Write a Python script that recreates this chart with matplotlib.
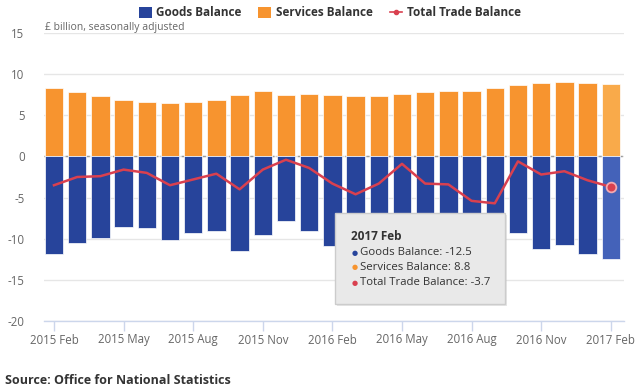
import matplotlib
matplotlib.use("Agg")
import matplotlib.pyplot as plt
from matplotlib.patches import Rectangle, Patch
from matplotlib.lines import Line2D

months = ["2015 Feb", "2015 Mar", "2015 Apr", "2015 May", "2015 Jun", "2015 Jul",
          "2015 Aug", "2015 Sep", "2015 Oct", "2015 Nov", "2015 Dec", "2016 Jan",
          "2016 Feb", "2016 Mar", "2016 Apr", "2016 May", "2016 Jun", "2016 Jul",
          "2016 Aug", "2016 Sep", "2016 Oct", "2016 Nov", "2016 Dec", "2017 Jan",
          "2017 Feb"]
goods = [-11.9, -10.5, -9.9, -8.6, -8.7, -10.2, -9.3, -9.1, -11.5, -9.5, -7.9, -9.1,
         -10.9, -12.0, -10.7, -8.5, -11.0, -11.3, -13.3, -14.0, -9.3, -11.3, -10.8,
         -11.9, -12.5]
services = [8.3, 7.8, 7.4, 6.9, 6.6, 6.5, 6.6, 6.9, 7.5, 7.9, 7.5, 7.6,
            7.5, 7.4, 7.4, 7.6, 7.8, 7.9, 8.0, 8.3, 8.7, 8.9, 9.1, 8.9, 8.8]
total = [-3.5, -2.5, -2.4, -1.6, -2.0, -3.5, -2.8, -2.1, -4.0, -1.6, -0.4, -1.4,
         -3.3, -4.6, -3.3, -0.9, -3.3, -3.4, -5.4, -5.7, -0.6, -2.2, -1.8, -2.9, -3.7]
yticks = [15, 10, 5, 0, -5, -10, -15, -20]

plt.rcParams["font.family"] = ["Open Sans", "DejaVu Sans"]

GOODS_C = "#27449b"
GOODS_H = "#4462b9"
SERV_C = "#f7942f"
SERV_H = "#f9aa4a"
LINE_C = "#d9404f"

fig = plt.figure(figsize=(6.4, 3.92), dpi=100)
ax = fig.add_axes([44 / 640, 1 - 321 / 392, 580 / 640, 288 / 392])

x = list(range(len(months)))
gcol = [GOODS_C] * (len(x) - 1) + [GOODS_H]
scol = [SERV_C] * (len(x) - 1) + [SERV_H]
ax.axhline(0, color="#9a9a9a", lw=1.0, ls=(0, (2.2, 1.6)), zorder=1)
ax.bar(x, services, width=0.79, color=scol, edgecolor="white", linewidth=0.5, zorder=2)
ax.bar(x, goods, width=0.79, color=gcol, edgecolor="white", linewidth=0.5, zorder=2)
ax.plot(x, total, color=LINE_C, lw=1.8, zorder=3, solid_joinstyle="round")
ax.plot([x[-1]], [total[-1]], marker="o", ms=7, color=LINE_C, mec="#f2a9b1",
        mew=1.3, zorder=4, ls="none")

ax.set_xlim(-0.43, 24.57)
ax.set_ylim(-20, 15)
ax.set_yticks(yticks)
ax.set_yticklabels([str(v) for v in yticks])
ax.grid(axis="y", color="#e6e6e6", lw=1)
ax.set_axisbelow(True)
for s in ["top", "right", "left"]:
    ax.spines[s].set_visible(False)
ax.spines["bottom"].set_color("#ccd6eb")
ax.spines["bottom"].set_linewidth(1)
tick_idx = list(range(0, len(months), 3))
ax.set_xticks(tick_idx)
ax.set_xticklabels([months[i] for i in tick_idx])
ax.tick_params(axis="x", colors="#ccd6eb", length=7, width=1, labelcolor="#666666",
               labelsize=8.3, pad=2)
ax.tick_params(axis="y", length=0, labelcolor="#666666", labelsize=8.3, pad=14)

ax.text(0.002, 1.0, "£ billion, seasonally adjusted", transform=ax.transAxes,
        ha="left", va="bottom", fontsize=7.5, color="#666666")

handles = [Patch(facecolor=GOODS_C, edgecolor="none"),
           Patch(facecolor=SERV_C, edgecolor="none"),
           Line2D([0], [0], color=LINE_C, lw=1.2, marker="o", ms=3)]
leg = fig.legend(handles, ["Goods Balance", "Services Balance", "Total Trade Balance"],
                 loc="center", bbox_to_anchor=(330 / 640, 1 - 13 / 392), ncol=3,
                 frameon=False, handlelength=1.1, handleheight=1.1,
                 handletextpad=0.4, columnspacing=1.4,
                 prop={"weight": "bold", "size": 8.5})
for t in leg.get_texts():
    t.set_color("#333333")

# tooltip
tx0, ty0, tx1, ty1 = 335, 213, 505, 304
fig.patches.append(Rectangle((tx0 / 640 + 0.003, 1 - (ty1 + 2) / 392),
                             (tx1 - tx0) / 640, (ty1 - ty0) / 392,
                             transform=fig.transFigure, facecolor="#bbbbbb",
                             alpha=0.35, edgecolor="none", zorder=5))
fig.patches.append(Rectangle((tx0 / 640, 1 - ty1 / 392), (tx1 - tx0) / 640,
                             (ty1 - ty0) / 392, transform=fig.transFigure,
                             facecolor="#e9e9e9", edgecolor="#cccccc", lw=1,
                             zorder=6))
fig.text(351 / 640, 1 - 236 / 392, months[-1], fontsize=8.5, weight="bold",
         color="#333333", va="center", ha="left", zorder=7)
rows = [("Goods Balance", goods[-1], GOODS_C),
        ("Services Balance", services[-1], SERV_C),
        ("Total Trade Balance", total[-1], LINE_C)]
for k, (name, val, c) in enumerate(rows):
    yy = 1 - (252.5 + 15 * k) / 392
    fig.text(352 / 640, yy, "●", fontsize=5, color=c, va="center", ha="left",
             family="DejaVu Sans", zorder=7)
    fig.text(360 / 640, yy, f"{name}: {val}", fontsize=8.2, color="#333333",
             va="center", ha="left", zorder=7)

fig.text(5 / 640, 1 - 380 / 392, "Source: Office for National Statistics",
         fontsize=9, weight="bold", color="#333333", va="center", ha="left")

fig.savefig("out.png", dpi=100)
